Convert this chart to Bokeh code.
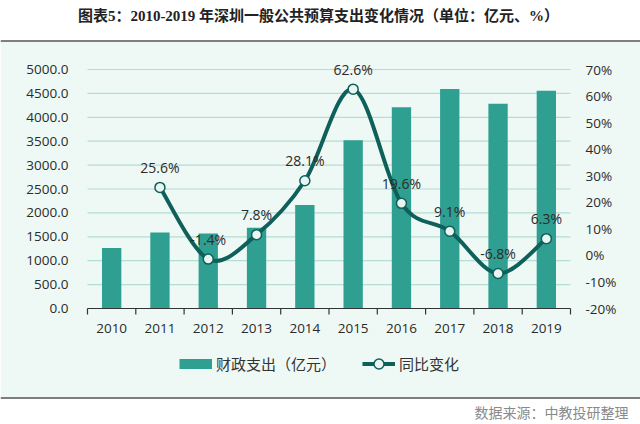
import math
import numpy as np
from bokeh.plotting import figure
from bokeh.models import Range1d, Legend, LegendItem, Span
from bokeh.core.properties import value
from bokeh.embed import file_html
from bokeh.resources import INLINE

# ---- data ----
years = ["2010", "2011", "2012", "2013", "2014", "2015", "2016", "2017", "2018", "2019"]
spending = [1268.0, 1590.0, 1569.7, 1690.8, 2166.0, 3521.0, 4211.0, 4594.0, 4283.0, 4553.0]
growth = [None, 25.6, -1.4, 7.8, 28.1, 62.6, 19.6, 9.1, -6.8, 6.3]
left_ticks = [0, 500, 1000, 1500, 2000, 2500, 3000, 3500, 4000, 4500, 5000]
right_ticks = [-20, -10, 0, 10, 20, 30, 40, 50, 60, 70]
title_text = "图表5：2010-2019 年深圳一般公共预算支出变化情况（单位：亿元、%）"
source_text = "数据来源：中教投研整理"
bar_name = "财政支出（亿元）"
line_name = "同比变化"

# ---- style / geometry (pixels) ----
W, H = 640, 424
MINT = "#EEF9F5"
BAR = "#2E9F90"
DARK = "#0F5F5B"
GRID = "#B4DDD4"
TXT = "#2b2b2b"
RULE = "#555555"
AX_FONT = "Open Sans"
CJK = "Noto Sans CJK SC"
PLOT_L, PLOT_R = 87, 570      # category area
PLOT_T, PLOT_B = 69, 308      # top tick / bottom tick
BAND_T, BAND_B = 41, 397      # tinted panel

ncat = len(years)
xpx = (PLOT_R - PLOT_L) / ncat
ylo, yhi = left_ticks[0], left_ticks[-1]
ypx = (yhi - ylo) / (PLOT_B - PLOT_T)
plo, phi = right_ticks[0], right_ticks[-1]
ppx = (phi - plo) / (PLOT_B - PLOT_T)

p = figure(width=W, height=H,
           x_range=Range1d(-PLOT_L / xpx, ncat + (W - PLOT_R) / xpx),
           y_range=Range1d(ylo - (H - PLOT_B) * ypx, yhi + PLOT_T * ypx),
           output_backend="svg", toolbar_location=None, min_border=0,
           x_axis_location=None, y_axis_location=None, outline_line_color=None,
           background_fill_color="white", border_fill_color="white")
p.grid.visible = False
p.extra_y_ranges = {"pct": Range1d(plo - (H - PLOT_B) * ppx, phi + PLOT_T * ppx),
                    "px": Range1d(H, 0)}
p.extra_x_ranges = {"px": Range1d(0, W)}

# tinted panel and rules
p.quad(left=[0], right=[W], top=[BAND_T], bottom=[BAND_B], x_range_name="px", y_range_name="px",
       fill_color=MINT, line_color=None, level="image")
p.add_layout(Span(location=BAND_T - 0.5, dimension="width", y_range_name="px",
                  line_color=RULE, line_width=1.5))
p.add_layout(Span(location=BAND_B + 0.5, dimension="width", y_range_name="px",
                  line_color=RULE, line_width=1.5))

xs = [i + 0.5 for i in range(ncat)]
edges = list(range(ncat + 1))

# gridlines
grid_vals = left_ticks[1:]
p.segment(x0=[0] * len(grid_vals), x1=[ncat] * len(grid_vals), y0=grid_vals, y1=grid_vals,
          line_color=GRID, line_width=1.2)

# bars
bars = p.vbar(x=xs, top=spending, width=0.4, fill_color=BAR, line_color=None)

# category axis: base line, ticks between categories, year labels
p.segment(x0=[0], x1=[ncat], y0=[ylo], y1=[ylo], line_color="#333333", line_width=1.2)
p.ray(x=edges, y=[ylo] * len(edges), length=6, length_units="screen", angle=-math.pi / 2,
      line_color="#333333", line_width=1.2)
p.text(x=xs, y=[ylo] * ncat, text=years, y_offset=20, text_align="center", text_baseline="middle",
       text_font=value(AX_FONT), text_font_size="13.5px", text_color=TXT)

# value axes labels
p.text(x=[0] * len(left_ticks), y=left_ticks, text=[f"{t:.1f}" for t in left_ticks], x_offset=-19,
       text_align="right", text_baseline="middle", text_font=value(AX_FONT),
       text_font_size="13.5px", text_color=TXT)
p.text(x=[ncat] * len(right_ticks), y=right_ticks, text=[f"{t}%" for t in right_ticks],
       y_range_name="pct", x_offset=15, text_align="left", text_baseline="middle",
       text_font=value(AX_FONT), text_font_size="13.5px", text_color=TXT)

# smoothed line (Catmull-Rom -> cubic Bezier through the data points)
gx = [x for x, g in zip(xs, growth) if g is not None]
gy = [g for g in growth if g is not None]
n = len(gx)
bx0, by0, bx1, by1, c0x, c0y, c1x, c1y = [], [], [], [], [], [], [], []
for i in range(n - 1):
    i0 = max(i - 1, 0)
    i3 = min(i + 2, n - 1)
    bx0.append(gx[i]); by0.append(gy[i])
    bx1.append(gx[i + 1]); by1.append(gy[i + 1])
    c0x.append(gx[i] + (gx[i + 1] - gx[i0]) / 6.0)
    c0y.append(gy[i] + (gy[i + 1] - gy[i0]) / 6.0)
    c1x.append(gx[i + 1] - (gx[i3] - gx[i]) / 6.0)
    c1y.append(gy[i + 1] - (gy[i3] - gy[i]) / 6.0)
p.bezier(x0=bx0, y0=by0, x1=bx1, y1=by1, cx0=c0x, cy0=c0y, cx1=c1x, cy1=c1y,
         line_color=DARK, line_width=4, y_range_name="pct")

marks = p.scatter(x=gx, y=gy, size=10, fill_color="#E8F5F1", line_color=DARK, line_width=1.5,
                  y_range_name="pct")
p.text(x=gx, y=gy, text=[f"{v}%" for v in gy], y_range_name="pct", text_align="center",
       text_baseline="middle", y_offset=-20, text_font=value(AX_FONT), text_font_size="14px",
       text_color=TXT)

# legend swatches (renderers holding a single NaN point: nothing drawn in the plot)
nan = np.array([np.nan])
bar_proxy = p.line(x=nan, y=nan, line_color=BAR, line_width=10, line_cap="butt")
line_proxy = p.line(x=nan, y=nan, line_color=DARK, line_width=4, y_range_name="pct")
leg = Legend(items=[LegendItem(label=bar_name, renderers=[bar_proxy]),
                    LegendItem(label=line_name, renderers=[line_proxy, marks])],
             location=(179, H - 375.5), orientation="horizontal", glyph_width=33, glyph_height=25,
             label_height=25, label_standoff=4, spacing=26, padding=0, margin=0,
             border_line_color=None, background_fill_alpha=0,
             label_text_font=CJK, label_text_font_size="15px", label_text_color="#333333")
p.add_layout(leg)

# title and source
p.text(x=[318], y=[15], text=[title_text], x_range_name="px", y_range_name="px",
       text_align="center", text_baseline="middle",
       text_font=value("'Liberation Serif', 'Noto Sans CJK SC'"), text_font_style="bold",
       text_font_size="15px", text_color="#222222")
p.text(x=[628], y=[411], text=[source_text], x_range_name="px", y_range_name="px",
       text_align="right", text_baseline="middle", text_font=value(CJK), text_font_size="14px",
       text_color="#8a8a8a")

open("out.html", "w").write(file_html(p, INLINE))
